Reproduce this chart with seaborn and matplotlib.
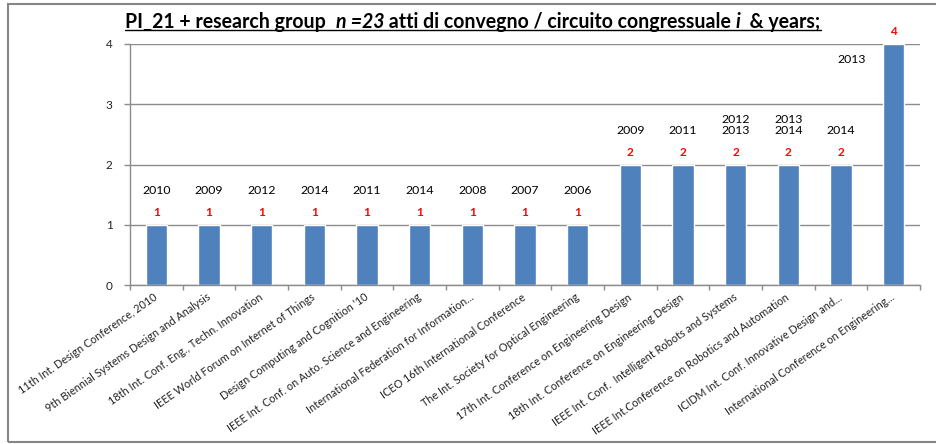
import matplotlib
matplotlib.use("Agg")
import matplotlib.pyplot as plt
from matplotlib.patches import Rectangle
from matplotlib.lines import Line2D
import seaborn as sns
import pandas as pd

conferences = [
    "11th Int. Design Conference, 2010",
    "9th Biennial Systems Design and Analysis",
    "18th Int. Conf. Eng., Techn. Innovation",
    "IEEE World Forum on Internet of Things",
    "Design Computing and Cognition '10",
    "IEEE Int. Conf. on Auto. Science and Engineering",
    "International Federation for Information...",
    "ICEO 16th International Conference",
    "The Int. Society for Optical Engineering",
    "17th Int. Conference on Engineering Design",
    "18th Int. Conference on Engineering Design",
    "IEEE Int. Conf.  Intelligent Robots and Systems",
    "IEEE Int.Conference on Robotics and Automation",
    "ICIDM Int. Conf. Innovative Design and...",
    "International Conference on Engineering...",
]
counts = [1, 1, 1, 1, 1, 1, 1, 1, 1, 2, 2, 2, 2, 2, 4]
years = ["2010", "2009", "2012", "2014", "2011", "2014", "2008", "2007", "2006",
         "2009", "2011", "2012\n2013", "2013\n2014", "2014", "2013"]
yticks = [0, 1, 2, 3, 4]
title_pieces = [
    ("PI_21 + research group  ", "normal"),
    ("n =23", "italic"),
    (" atti di convegno / circuito congressuale ", "normal"),
    ("i", "italic"),
    ("  & years;", "normal"),
]

W, H = 937, 444
sns.set_theme(style="white")
plt.rcParams["font.family"] = ["Lato", "DejaVu Sans"]

fig = plt.figure(figsize=(W / 100, H / 100), dpi=100)
ax = fig.add_axes([130 / W, 1 - 285 / H, 790 / W, (285 - 44) / H])

df = pd.DataFrame({"conf": conferences, "n": counts})
sns.barplot(data=df, x="conf", y="n", color="#4F81BD", saturation=1,
            width=0.4, ax=ax)

grid_c = "#8C8C8C"
ax.set_ylim(0, 4)
ax.set_xlim(-0.5, len(conferences) - 0.5)
ax.set_yticks(yticks)
ax.set_yticklabels([str(t) for t in yticks], fontsize=8.5, color="#222222")
ax.yaxis.grid(True, color=grid_c, linewidth=1)
ax.set_axisbelow(True)
ax.set_xlabel("")
ax.set_ylabel("")
for s in ["top", "right"]:
    ax.spines[s].set_visible(False)
for s in ["left", "bottom"]:
    ax.spines[s].set_color(grid_c)
    ax.spines[s].set_linewidth(1)

ax.tick_params(axis="y", which="major", left=True, length=4.5, width=1,
               color=grid_c, pad=8)
ax.set_xticks(range(len(conferences)))
ax.set_xticklabels(conferences, rotation=35, ha="right",
                   rotation_mode="anchor", fontsize=7.8, color="#222222")
ax.tick_params(axis="x", which="major", bottom=False, length=0, pad=8)
ax.set_xticks([i - 0.5 for i in range(len(conferences) + 1)], minor=True)
ax.tick_params(axis="x", which="minor", bottom=True, length=3.5, width=1,
               color=grid_c, direction="out")
for lab in ax.get_xticklabels():
    lab.set_verticalalignment("center")

# red value labels and year annotations
for i, (v, yr) in enumerate(zip(counts, years)):
    ax.annotate(str(v), (i, v), xytext=(0, 9), textcoords="offset points",
                ha="center", va="center", color="#FF0000",
                fontsize=8.5, fontweight="bold")
    if v >= 3:
        ax.text(i - 0.8, v - 0.35, yr, ha="center", va="bottom",
                fontsize=8.8, color="black", linespacing=0.95)
    else:
        ax.text(i, v + 0.48, yr, ha="center", va="bottom",
                fontsize=8.8, color="black", linespacing=0.95)

# title composed of styled pieces, underlined
renderer = fig.canvas.get_renderer()

def piece_width(s, style, size):
    t1 = fig.text(0, 0, "|" + s + "|", fontsize=size, fontweight="bold",
                  style=style)
    t2 = fig.text(0, 0, "||", fontsize=size, fontweight="bold", style=style)
    w = t1.get_window_extent(renderer).width - t2.get_window_extent(renderer).width
    t1.remove()
    t2.remove()
    return w

base = 11.0
tot = sum(piece_width(s, st, base) for s, st in title_pieces)
size = base * 695.0 / tot
widths = [piece_width(s, st, size) for s, st in title_pieces]
total = sum(widths)
x0 = 473 - total / 2
ybase = H - 28
x = x0
for (s, st), w in zip(title_pieces, widths):
    fig.text(x / W, ybase / H, s, fontsize=size, fontweight="bold", style=st,
             ha="left", va="baseline", color="black")
    x += w
fig.add_artist(Line2D([x0 / W, (x0 + total) / W], [(ybase - 2.5) / H] * 2,
                      transform=fig.transFigure, color="black", linewidth=1))

# outer chart border
fig.add_artist(Rectangle((8 / W, 2 / H), 1.2, 438 / H, transform=fig.transFigure,
                         fill=False, edgecolor="#868686", linewidth=1.5,
                         clip_on=False))

fig.savefig("out.png", dpi=100)
